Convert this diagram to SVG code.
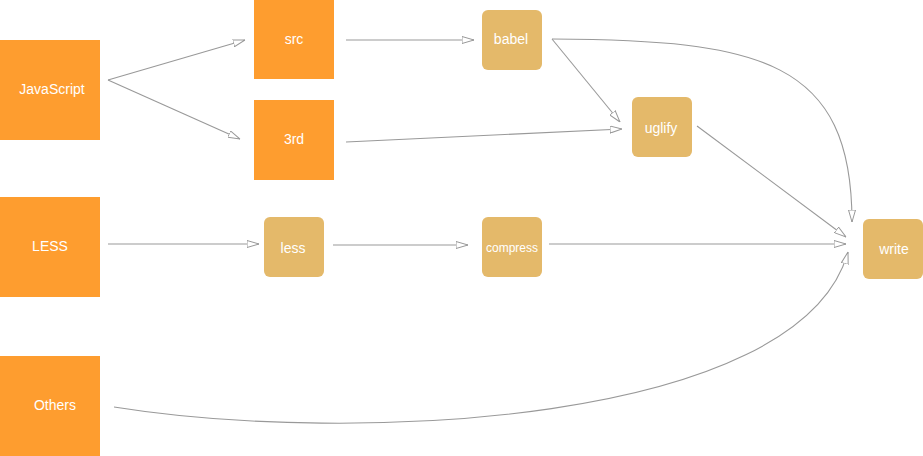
<svg xmlns="http://www.w3.org/2000/svg" width="923" height="456" viewBox="0 0 923 456">
<style>
.sq{fill:#FE9D2F}
.rd{fill:#E4B96A}
text{font-family:"Liberation Sans",Arial,sans-serif;font-size:14px;fill:#fff;text-anchor:middle;dominant-baseline:central}
.e{fill:none;stroke:#999;stroke-width:1.1}
</style>
<defs>
<marker id="a" viewBox="0 0 12 8" refX="12" refY="4" markerWidth="12" markerHeight="8" markerUnits="userSpaceOnUse" orient="auto">
<path d="M0,0.5 L12,4 L0,7.5 Z" fill="#fff" stroke="#999" stroke-width="1"/>
</marker>
</defs>
<g id="connectors">
<path class="e" marker-end="url(#a)" d="M108,80 L245,40"/>
<path class="e" marker-end="url(#a)" d="M108,80 L240,139"/>
<path class="e" marker-end="url(#a)" d="M346,40 L474,40"/>
<path class="e" marker-end="url(#a)" d="M346,142 L622,129"/>
<path class="e" marker-end="url(#a)" d="M552,39 L620,122"/>
<path class="e" marker-end="url(#a)" d="M552,39 C760,40 852,60 852,222"/>
<path class="e" marker-end="url(#a)" d="M697,126 L846,237"/>
<path class="e" marker-end="url(#a)" d="M108,244 L259,244"/>
<path class="e" marker-end="url(#a)" d="M333,245 L468,245"/>
<path class="e" marker-end="url(#a)" d="M549,244 L846,244"/>
<path class="e" marker-end="url(#a)" d="M114,407 C350,445 800,425 848,252"/>
</g>
<g id="JavaScript"><rect class="sq" x="0" y="40" width="100" height="100"/><text x="52" y="89">JavaScript</text></g>
<g id="LESS"><rect class="sq" x="0" y="197" width="100" height="100"/><text x="50" y="246">LESS</text></g>
<g id="Others"><rect class="sq" x="0" y="356" width="100" height="100"/><text x="55" y="405">Others</text></g>
<g id="src"><rect class="sq" x="254" y="0" width="80" height="79"/><text x="294" y="39">src</text></g>
<g id="3rd"><rect class="sq" x="254" y="100" width="80" height="80"/><text x="294" y="139">3rd</text></g>
<g id="babel"><rect class="rd" x="482" y="10" width="60" height="60" rx="6"/><text x="511" y="39">babel</text></g>
<g id="uglify"><rect class="rd" x="632" y="97" width="60" height="60" rx="6"/><text x="661" y="128">uglify</text></g>
<g id="less"><rect class="rd" x="264" y="217" width="60" height="60" rx="6"/><text x="293" y="248">less</text></g>
<g id="compress"><rect class="rd" x="482" y="217" width="60" height="60" rx="6"/><text x="512" y="248" style="font-size:12px">compress</text></g>
<g id="write"><rect class="rd" x="863" y="219" width="60" height="60" rx="6"/><text x="894" y="249">write</text></g>
</svg>
